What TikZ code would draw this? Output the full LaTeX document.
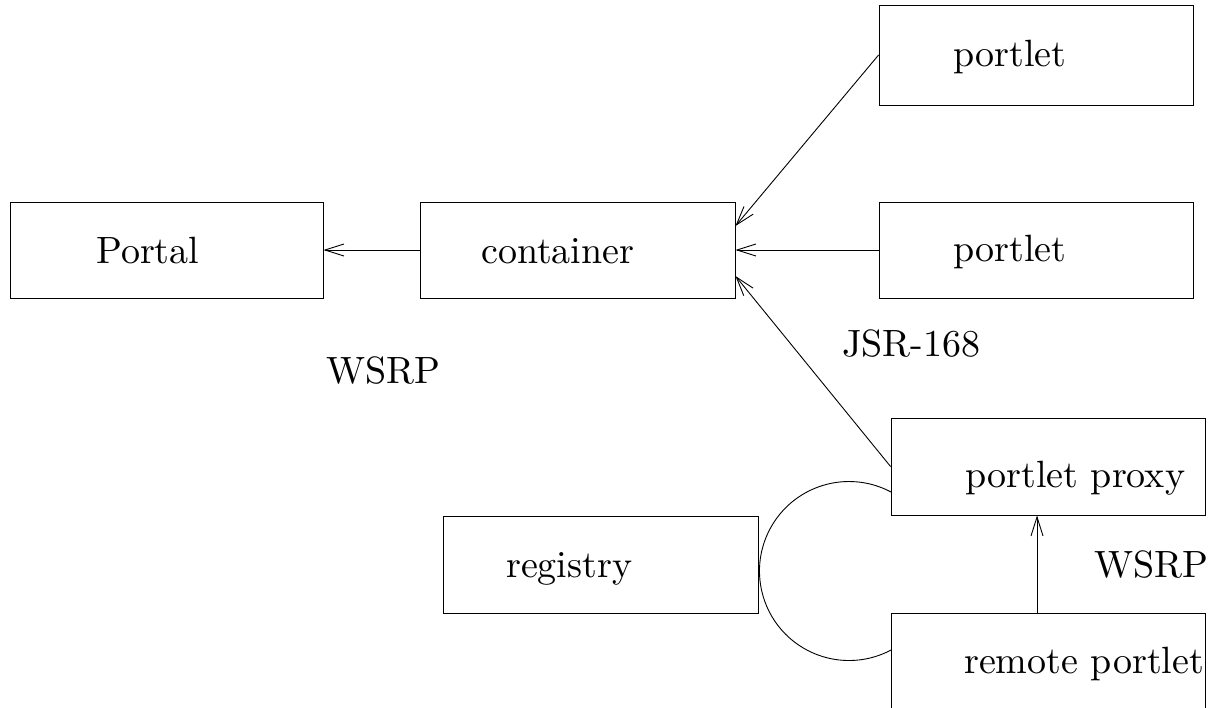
\documentclass[tikz,border=0pt]{standalone}
\usetikzlibrary{arrows.meta}
\newcommand{\bigtxt}[1]{\scalebox{3.8}{#1}}
\begin{document}
\begin{tikzpicture}[x=1pt,y=-1pt,
  box/.style={draw,line width=0.9pt,inner sep=0pt,minimum width=#1},
  lbl/.style={inner sep=0pt,anchor=base west},
  con/.style={line width=0.9pt,-{Straight Barb[length=19pt,width=12pt,line width=0.9pt]}}]
\useasboundingbox (0,0) rectangle (1209,707);
\clip (0,0) rectangle (1209,707);
% boxes
\node[box=313pt,minimum height=96pt] (portal) at (166.5,250) {};
\node[box=315pt,minimum height=96pt] (cont) at (577.5,250) {};
\node[box=314pt,minimum height=100pt] (p1) at (1036,55) {};
\node[box=314pt,minimum height=96pt] (p2) at (1036,250) {};
\node[box=314pt,minimum height=97pt] (proxy) at (1048,466.5) {};
\node[box=315pt,minimum height=97pt] (reg) at (600.5,564.5) {};
\node[box=314pt,minimum height=110pt] (remote) at (1048,668) {};
% texts
\node[lbl] (tportal) at (96,263) {\bigtxt{Portal}};
\node[lbl] (tcont) at (481,263) {\bigtxt{container}};
\node[lbl] (tp1) at (953,66) {\bigtxt{portlet}};
\node[lbl] (tp2) at (953,261) {\bigtxt{portlet}};
\node[lbl] (tproxy) at (965,487) {\bigtxt{portlet proxy}};
\node[lbl] (treg) at (506,577) {\bigtxt{registry}};
\node[lbl] (tremote) at (964,673) {\bigtxt{remote portlet}};
\node[lbl] (wsrp1) at (326,383) {\bigtxt{WSRP}};
\node[lbl] (jsr) at (842,356) {\bigtxt{JSR-168}};
\node[lbl] (wsrp2) at (1094,577) {\bigtxt{WSRP}};
% connectors
\draw[con] (cont.west) -- (portal.east);
\draw[con] (p2.west) -- (cont.east);
\draw[con] (p1.west) -- ([yshift=24pt]cont.east);
\draw[con] (proxy.west) -- ([yshift=-26pt]cont.east);
\coordinate (wsrpfoot) at ([xshift=-11pt]remote.north);
\draw[con] (wsrpfoot) -- (proxy.south -| wsrpfoot);
% loop arc between proxy and remote
\coordinate (arcstart) at (891,492);
\draw[line width=0.9pt] (arcstart) arc[start angle=62,end angle=298,radius=89.5pt];
\end{tikzpicture}
\end{document}
